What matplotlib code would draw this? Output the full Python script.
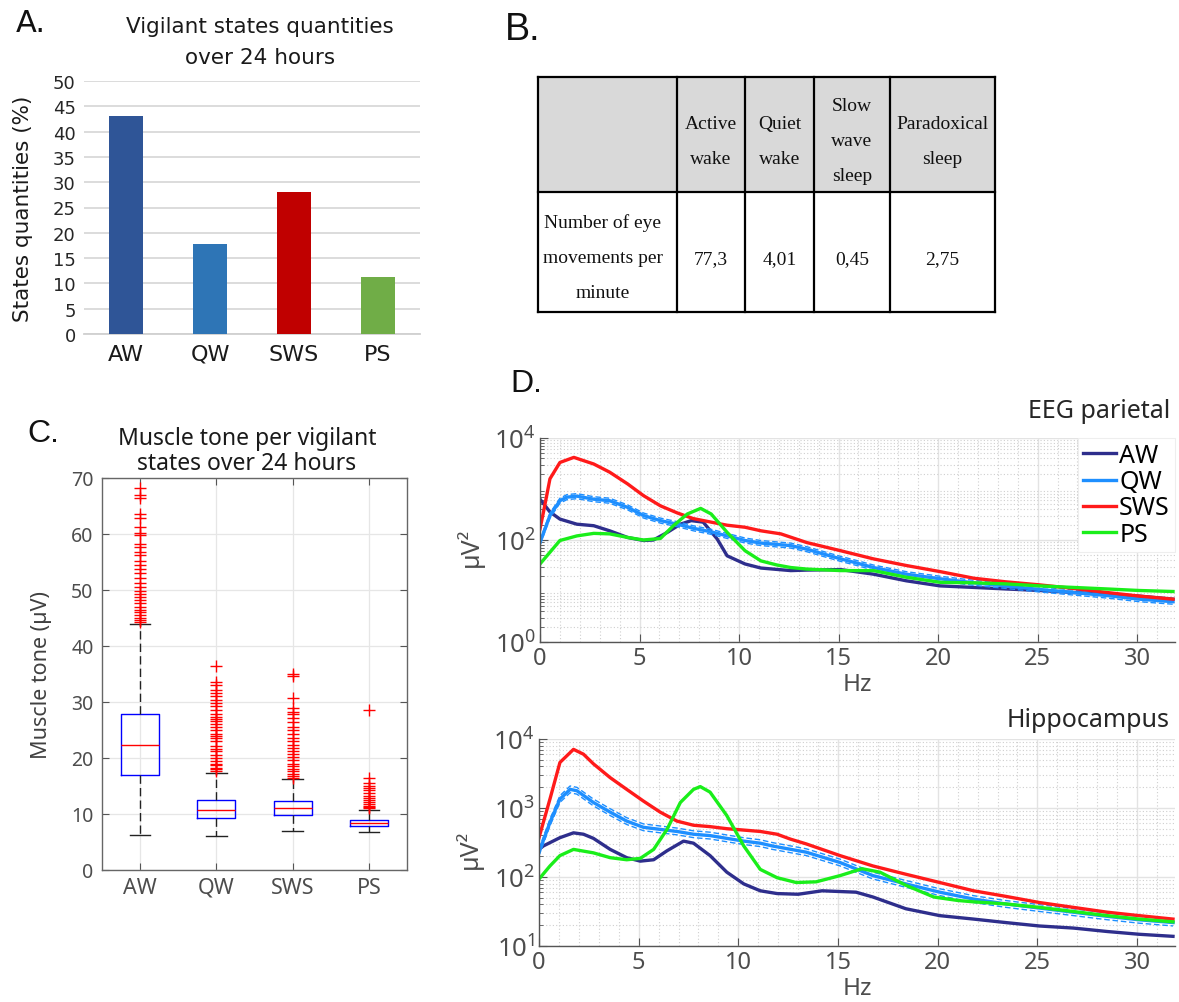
import numpy as np
import matplotlib
matplotlib.use('Agg')
import matplotlib.pyplot as plt
from matplotlib.patches import Rectangle
from matplotlib.ticker import MultipleLocator, LogLocator, NullFormatter

plt.rcParams['font.family'] = ['Noto Sans', 'DejaVu Sans']
plt.rcParams['mathtext.default'] = 'regular'

# ---------------- data ----------------
states = ['AW', 'QW', 'SWS', 'PS']
state_pct = [43.0, 17.7, 28.0, 11.3]
state_colors = ['#2f5597', '#2e75b6', '#c00000', '#70ad47']

table_header = [['Active', 'wake'], ['Quiet', 'wake'], ['Slow', 'wave', 'sleep'], ['Paradoxical', 'sleep']]
table_row_label = ['Number of eye', 'movements per', 'minute']
table_values = ['77,3', '4,01', '0,45', '2,75']

box_med = [22.4, 10.8, 11.1, 8.4]
box_q1 = [17.0, 9.2, 9.9, 7.9]
box_q3 = [27.8, 12.5, 12.4, 9.0]
box_lo = [6.3, 6.0, 7.0, 6.7]
box_hi = [44.0, 17.4, 16.3, 10.8]
fliers_aw = [68.3, 67.0, 66.5, 63.6, 62.9, 61.3, 60.1, 59.8, 58.2, 57.6, 56.7, 56.2, 55.2,
             54.5, 53.8, 53.0, 52.2, 51.3, 50.5, 49.9, 49.3, 48.7, 48.2, 47.6, 47.0, 46.5,
             46.0, 45.5, 45.0, 44.6, 44.3]
fliers_qw = [36.5, 33.6, 33.0, 32.2, 31.6, 31.0, 30.3, 29.8, 29.2, 28.5, 27.8, 27.4, 27.0,
             26.6, 26.0, 25.5, 25.0, 24.3, 23.9, 23.5, 23.0, 22.2, 21.6, 21.2, 20.6, 20.0,
             19.5, 19.0, 18.7, 18.3, 18.0, 17.7]
fliers_sws = [35.0, 34.7, 30.8, 29.0, 28.3, 27.8, 27.1, 26.5, 25.6, 25.0, 24.3, 23.6, 23.0,
              22.3, 21.8, 21.3, 20.8, 20.2, 19.6, 19.0, 18.5, 18.0, 17.6, 17.2, 16.8, 16.5]
fliers_ps = [28.6, 16.4, 15.6, 15.0, 14.6, 14.2, 13.8, 13.3, 12.9, 12.5, 12.1, 11.8, 11.5,
             11.2, 11.0]

# Spectra (frequency in Hz, power as log10(uV^2))
eeg_aw_f = [0, 0.5, 1.0, 1.85, 2.7, 3.5, 4.4, 5.2, 5.7, 6.4, 7.05, 7.6, 8.2, 8.9, 9.4, 10.3,
            11.1, 12.6, 13.4, 15.1, 16.75, 18.4, 20.1, 21.8, 23.4, 25.1, 26.8, 28.5, 30.1, 31.8]
eeg_aw_p = [2.80, 2.55, 2.41, 2.31, 2.28, 2.18, 2.05, 1.99, 2.00, 2.15, 2.31, 2.38, 2.35, 2.02,
            1.69, 1.53, 1.45, 1.40, 1.41, 1.42, 1.33, 1.20, 1.10, 1.07, 1.04, 1.01, 0.97, 0.94,
            0.90, 0.84]
eeg_qw_f = [0, 0.5, 1.0, 1.35, 1.85, 2.7, 3.5, 4.4, 5.2, 6.05, 6.9, 7.7, 8.6, 9.4, 10.3, 11.1,
            11.7, 12.6, 13.4, 14.2, 15.1, 15.9, 16.75, 18.4, 20.1, 21.8, 23.4, 25.1, 26.8,
            28.5, 30.1, 31.8]
eeg_qw_p = [1.95, 2.48, 2.77, 2.84, 2.86, 2.80, 2.77, 2.64, 2.48, 2.38, 2.31, 2.23, 2.16, 2.08,
            1.99, 1.94, 1.92, 1.89, 1.82, 1.73, 1.63, 1.55, 1.46, 1.33, 1.24, 1.16, 1.10, 1.03,
            0.97, 0.91, 0.84, 0.79]
eeg_sws_f = [0, 0.17, 0.5, 1.0, 1.7, 2.7, 3.5, 4.4, 5.2, 6.05, 6.9, 7.7, 8.6, 9.4, 10.3, 11.1,
             12.1, 13.4, 15.1, 16.75, 18.4, 20.1, 21.8, 23.4, 25.1, 26.8, 28.5, 30.1, 31.8]
eeg_sws_p = [2.22, 2.54, 3.20, 3.52, 3.62, 3.49, 3.33, 3.10, 2.87, 2.67, 2.53, 2.42, 2.35, 2.29,
             2.25, 2.18, 2.12, 1.95, 1.79, 1.63, 1.50, 1.38, 1.25, 1.18, 1.12, 1.05, 0.97, 0.90,
             0.84]
eeg_ps_f = [0, 0.5, 1.0, 1.85, 2.7, 3.5, 4.4, 5.2, 6.05, 6.7, 7.4, 8.07, 8.6, 9.4, 10.3, 11.1,
            11.9, 12.6, 13.4, 15.1, 16.75, 18.4, 20.1, 21.8, 23.4, 25.1, 26.8, 28.5, 30.1, 31.8]
eeg_ps_p = [1.53, 1.76, 1.99, 2.08, 2.13, 2.12, 2.05, 2.00, 2.03, 2.28, 2.51, 2.62, 2.51, 2.15,
            1.79, 1.59, 1.51, 1.46, 1.43, 1.40, 1.40, 1.27, 1.17, 1.16, 1.14, 1.10, 1.07, 1.04,
            1.01, 0.99]

hip_aw_f = [0, 0.22, 1.05, 1.73, 2.23, 2.73, 3.57, 4.4, 5.08, 5.75, 6.42, 7.25, 7.75, 8.58, 9.42,
            10.27, 11.1, 11.94, 13.0, 14.2, 15.9, 16.75, 18.4, 20.1, 21.8, 23.4, 25.1, 26.8,
            28.5, 30.1, 31.8]
hip_aw_p = [2.40, 2.45, 2.57, 2.64, 2.62, 2.56, 2.40, 2.28, 2.23, 2.25, 2.38, 2.52, 2.49, 2.31,
            2.07, 1.90, 1.80, 1.76, 1.75, 1.80, 1.78, 1.71, 1.54, 1.44, 1.39, 1.34, 1.29, 1.26,
            1.21, 1.17, 1.14]
hip_qw_f = [0, 0.55, 1.05, 1.56, 1.9, 2.73, 3.57, 4.4, 5.24, 6.08, 6.92, 7.75, 8.58, 9.42, 10.27,
            11.1, 11.7, 13.4, 15.1, 16.75, 18.4, 20.1, 21.8, 23.4, 25.1, 26.8, 28.5, 30.1, 31.8]
hip_qw_p = [2.36, 2.79, 3.13, 3.27, 3.25, 3.08, 2.94, 2.81, 2.72, 2.69, 2.66, 2.62, 2.60, 2.56,
            2.52, 2.49, 2.45, 2.36, 2.21, 2.02, 1.90, 1.78, 1.68, 1.61, 1.55, 1.49, 1.43, 1.38,
            1.34]
hip_sws_f = [0, 0.55, 1.05, 1.73, 2.23, 2.73, 3.57, 4.4, 5.24, 6.08, 6.92, 7.75, 8.58, 9.42,
             10.27, 11.1, 11.94, 12.6, 13.4, 15.1, 16.75, 18.4, 20.1, 21.8, 23.4, 25.1, 26.8,
             28.5, 30.1, 31.8]
hip_sws_p = [2.57, 3.13, 3.66, 3.85, 3.78, 3.64, 3.44, 3.27, 3.10, 2.94, 2.81, 2.75, 2.73, 2.70,
             2.68, 2.66, 2.62, 2.55, 2.48, 2.31, 2.16, 2.04, 1.92, 1.80, 1.72, 1.63, 1.56, 1.49,
             1.44, 1.39]
hip_ps_f = [0, 0.55, 1.05, 1.73, 2.73, 3.57, 4.4, 5.08, 5.75, 6.42, 7.09, 7.75, 8.09, 8.58, 9.42,
            10.27, 11.1, 11.94, 12.9, 13.9, 15.1, 16.2, 17.1, 18.4, 19.8, 21.0, 21.8, 23.4, 25.1,
            26.8, 28.5, 30.1, 31.8]
hip_ps_p = [1.97, 2.16, 2.31, 2.40, 2.35, 2.28, 2.25, 2.27, 2.40, 2.69, 3.08, 3.27, 3.31, 3.23,
            2.89, 2.45, 2.11, 1.99, 1.92, 1.93, 2.02, 2.12, 2.07, 1.88, 1.71, 1.66, 1.64, 1.61,
            1.56, 1.50, 1.44, 1.39, 1.35]

spec_colors = {'AW': '#2e2e8c', 'QW': '#1e8fff', 'SWS': '#ff1a1a', 'PS': '#1aee1a'}
QW_SEM_FACTOR = 1.12

# ---------------- figure ----------------
W, H = 1179, 1003
fig = plt.figure(figsize=(W / 100, H / 100), dpi=100)


def ax_px(l, t, r, b):
    return fig.add_axes([l / W, 1 - b / H, (r - l) / W, (b - t) / H])


ov = fig.add_axes([0, 0, 1, 1])
ov.set_xlim(0, W)
ov.set_ylim(H, 0)
ov.axis('off')

SANS_A = ['DejaVu Sans']
SANS_L = ['Liberation Sans', 'DejaVu Sans']
SERIF = ['Liberation Serif', 'DejaVu Serif']

# ---------- Panel A ----------
axA = ax_px(84, 82, 420, 335)
xA = np.arange(len(states))
axA.bar(xA, state_pct, width=0.4, color=state_colors, zorder=3)
axA.set_xlim(-0.5, 3.5)
axA.set_ylim(0, 50)
axA.set_yticks(np.arange(0, 51, 5))
axA.set_xticks(xA)
axA.set_xticklabels(states, family=SANS_A, fontsize=16, color='#1a1a1a')
axA.set_yticklabels([str(v) for v in range(0, 51, 5)], family=SANS_A, fontsize=13, color='#262626')
axA.yaxis.grid(True, color='#d9d9d9', lw=1.3, zorder=0)
axA.set_axisbelow(True)
for s in ['top', 'right', 'left']:
    axA.spines[s].set_visible(False)
axA.spines['bottom'].set_color('#d0d0d0')
axA.spines['bottom'].set_linewidth(1.3)
axA.tick_params(axis='both', length=0)
axA.tick_params(axis='y', pad=6)
axA.tick_params(axis='x', pad=7)
axA.set_ylabel('States quantities (%)', family=SANS_A, fontsize=15.5, color='#1a1a1a')
axA.yaxis.set_label_coords(-0.152, 0.5)

ov.text(16, 32, 'A.', family=SANS_A, fontsize=22, color='#111111', ha='left', va='baseline')
ov.text(260, 33, 'Vigilant states quantities', family=SANS_A, fontsize=15.5, ha='center', va='baseline', color='#1a1a1a')
ov.text(260, 64, 'over 24 hours', family=SANS_A, fontsize=15.5, ha='center', va='baseline', color='#1a1a1a')

# ---------- Panel B (table) ----------
ov.text(505, 40, 'B.', family=SANS_L, fontsize=27, color='#111111', ha='left', va='baseline')
col_edges = [538, 677, 745, 814, 890, 995]
row_edges = [78, 193, 313]
ov.add_patch(Rectangle((col_edges[0], row_edges[0]), col_edges[-1] - col_edges[0],
                       row_edges[1] - row_edges[0], facecolor='#d9d9d9', edgecolor='none', zorder=1))
for xe in col_edges:
    ov.plot([xe, xe], [row_edges[0], row_edges[-1]], color='black', lw=1.6, zorder=2,
            solid_capstyle='projecting')
for ye in row_edges:
    ov.plot([col_edges[0], col_edges[-1]], [ye, ye], color='black', lw=1.6, zorder=2,
            solid_capstyle='projecting')


def cell_lines(xc, yc, lines, step=35.0, size=14):
    n = len(lines)
    for i, s in enumerate(lines):
        y = yc + (i - (n - 1) / 2) * step
        ov.text(xc, y + 7, s, family=SERIF, fontsize=size, ha='center', va='baseline',
                color='#111111', zorder=3)


for j, lines in enumerate(table_header):
    xc = (col_edges[j + 1] + col_edges[j + 2]) / 2
    cell_lines(xc, 139, lines)
cell_lines(603, 256, table_row_label)
for j, v in enumerate(table_values):
    xc = (col_edges[j + 1] + col_edges[j + 2]) / 2
    cell_lines(xc, 257, [v])

# ---------- Panel C (boxplot) ----------
axC = ax_px(102, 479, 407, 871)
stats = []
all_fliers = [fliers_aw, fliers_qw, fliers_sws, fliers_ps]
for i in range(4):
    stats.append(dict(med=box_med[i], q1=box_q1[i], q3=box_q3[i], whislo=box_lo[i],
                      whishi=box_hi[i], fliers=all_fliers[i], label=states[i]))
axC.bxp(stats, positions=[1, 2, 3, 4], widths=0.5, capwidths=0.27,
        boxprops=dict(color='#0000ff', lw=1.0),
        medianprops=dict(color='#ff0000', lw=1.0),
        whiskerprops=dict(color='#222222', lw=1.0, linestyle=(0, (6, 3))),
        capprops=dict(color='#222222', lw=1.0),
        flierprops=dict(marker='+', markeredgecolor='#ff0000', markersize=8, markeredgewidth=1.0,
                        linestyle='none'))
axC.set_xlim(0.5, 4.5)
axC.set_ylim(0, 70)
axC.set_yticks(np.arange(0, 71, 10))
axC.set_xticks([1, 2, 3, 4])
axC.set_xticklabels(states)
axC.grid(True, color='#e6e6e6', lw=0.9)
axC.set_axisbelow(True)
for s in axC.spines.values():
    s.set_color('#666666')
    s.set_linewidth(1.0)
axC.tick_params(direction='in', top=True, right=True, length=5, color='#555555',
                labelcolor='#4d4d4d')
axC.tick_params(axis='y', labelsize=14, pad=6)
axC.tick_params(axis='x', labelsize=15.5, pad=5)
axC.set_ylabel('Muscle tone (µV)', fontsize=15.5, color='#404040')
axC.yaxis.set_label_coords(-0.164, 0.5)

ov.text(27, 442, 'C.', family=SANS_L, fontsize=23, color='#111111', ha='left', va='baseline')
ov.text(247, 445, 'Muscle tone per vigilant', fontsize=16.5, ha='center', va='baseline', color='#1a1a1a')
ov.text(247, 470, 'states over 24 hours', fontsize=16.5, ha='center', va='baseline', color='#1a1a1a')

# ---------- Panel D (spectra) ----------
ov.text(510, 392, 'D.', family=SANS_L, fontsize=23, color='#111111', ha='left', va='baseline')

axD1 = ax_px(540, 439, 1175, 643)
axD2 = ax_px(539, 740, 1175, 947)

top_series = [('AW', eeg_aw_f, eeg_aw_p), ('QW', eeg_qw_f, eeg_qw_p),
              ('SWS', eeg_sws_f, eeg_sws_p), ('PS', eeg_ps_f, eeg_ps_p)]
bot_series = [('AW', hip_aw_f, hip_aw_p), ('QW', hip_qw_f, hip_qw_p),
              ('SWS', hip_sws_f, hip_sws_p), ('PS', hip_ps_f, hip_ps_p)]

for ax, series, ylim, yt, title, title_y in [
        (axD1, top_series, (1, 1e4), [1, 1e2, 1e4], 'EEG parietal', 418),
        (axD2, bot_series, (10, 1e4), [10, 1e2, 1e3, 1e4], 'Hippocampus', 727)]:
    ax.set_yscale('log')
    for name, f, p in series:
        vals = 10 ** np.asarray(p)
        if name == 'QW':
            ax.plot(f, vals * QW_SEM_FACTOR, color=spec_colors[name], lw=1.0, ls=(0, (4, 2)))
            ax.plot(f, vals / QW_SEM_FACTOR, color=spec_colors[name], lw=1.0, ls=(0, (4, 2)))
        ax.plot(f, vals, color=spec_colors[name], lw=2.4, label=name, solid_joinstyle='round')
    ax.set_xlim(0, 31.9)
    ax.set_ylim(*ylim)
    ax.set_yticks(yt)
    ax.set_yticklabels([r'$\mathregular{10^{%d}}$' % int(round(np.log10(v))) for v in yt])
    ax.yaxis.set_minor_locator(LogLocator(base=10, subs=np.arange(2, 10), numticks=20))
    ax.yaxis.set_minor_formatter(NullFormatter())
    ax.xaxis.set_major_locator(MultipleLocator(5))
    ax.xaxis.set_minor_locator(MultipleLocator(1))
    ax.grid(True, which='major', color='#e3e3e3', lw=1.0)
    ax.grid(True, which='minor', color='#cfcfcf', lw=0.8, ls=(0, (1, 2)))
    ax.set_axisbelow(True)
    for s in ['top', 'right']:
        ax.spines[s].set_visible(False)
    for s in ['left', 'bottom']:
        ax.spines[s].set_color('#555555')
        ax.spines[s].set_linewidth(1.0)
    ax.tick_params(which='major', direction='in', length=6, color='#555555',
                   labelcolor='#4d4d4d', labelsize=17)
    ax.tick_params(axis='y', which='major', labelsize=18.5)
    ax.tick_params(which='minor', direction='in', length=3, color='#555555')
    ax.tick_params(axis='x', which='minor', length=0)
    ax.tick_params(axis='y', pad=3)
    ax.tick_params(axis='x', pad=3)
    ax.set_xlabel('Hz', fontsize=17.5, color='#4d4d4d', labelpad=1)
    ax.set_ylabel('µV²', fontsize=18, color='#4d4d4d')
    ax.yaxis.set_label_coords(-0.088, 0.47)
    ov.text(1170, title_y, title, fontsize=18, ha='right', va='baseline', color='#262626')

leg = axD1.legend(loc='upper right', borderaxespad=0, fontsize=18, frameon=True,
                  handlelength=1.3, handletextpad=0.15, labelspacing=0.05, borderpad=0.2,
                  fancybox=False)
leg.get_frame().set_edgecolor('#eeeeee')
leg.get_frame().set_linewidth(0.8)
leg.get_frame().set_alpha(1.0)

fig.savefig('out.png', dpi=100)
